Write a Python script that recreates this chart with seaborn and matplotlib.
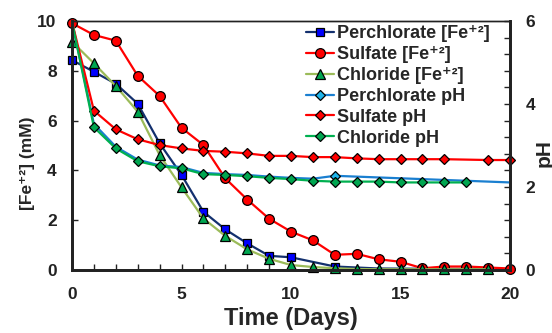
import matplotlib
matplotlib.use("Agg")
import matplotlib.pyplot as plt
import seaborn as sns
from matplotlib.lines import Line2D
from matplotlib.ticker import MultipleLocator

# Fe+2 concentration (mM)
perc_fe_days = [0, 1, 2, 3, 4, 5, 6, 7, 8, 9, 10, 12, 14, 16, 19]
perc_fe = [8.43, 7.96, 7.48, 6.68, 5.09, 3.82, 2.34, 1.63, 1.07, 0.57, 0.51, 0.14, 0.06, 0.05, 0.04]

sulf_fe_days = list(range(0, 21))
sulf_fe = [9.91, 9.44, 9.21, 7.80, 6.99, 5.71, 5.02, 3.68, 2.83, 2.06, 1.54, 1.19, 0.61, 0.65,
           0.43, 0.33, 0.07, 0.14, 0.14, 0.10, 0.06]

chl_fe_days = list(range(0, 20))
chl_fe = [9.17, 8.30, 7.39, 6.36, 4.62, 3.32, 2.07, 1.37, 0.83, 0.45, 0.20, 0.12, 0.07, 0.04,
          0.03, 0.03, 0.03, 0.03, 0.03, 0.03]

# pH
perc_ph_days = [0, 1, 2, 3, 4, 5, 6, 7, 8, 9, 10, 11, 12, 20]
perc_ph = [5.98, 3.52, 2.97, 2.66, 2.52, 2.48, 2.34, 2.31, 2.29, 2.25, 2.22, 2.20, 2.27, 2.11]

sulf_ph_days = list(range(0, 18)) + [19, 20]
sulf_ph = [5.98, 3.84, 3.39, 3.15, 3.01, 2.93, 2.87, 2.85, 2.81, 2.75, 2.75, 2.72, 2.72, 2.69,
           2.67, 2.67, 2.67, 2.67, 2.65, 2.65]

chl_ph_days = list(range(0, 19))
chl_ph = [5.98, 3.44, 2.93, 2.62, 2.50, 2.45, 2.31, 2.29, 2.26, 2.22, 2.19, 2.15, 2.13, 2.13,
          2.13, 2.11, 2.11, 2.11, 2.11]

labels = ['Perchlorate [Fe\u207a\u00b2]', 'Sulfate [Fe\u207a\u00b2]', 'Chloride [Fe\u207a\u00b2]',
          'Perchlorate pH', 'Sulfate pH', 'Chloride pH']

# (line colour, marker, marker face, marker size)
styles = [('#13306e', 's', '#0000ff', 6),
          ('#ff0000', 'o', '#ff0000', 7),
          ('#9bbb59', '^', '#00a650', 6.5),
          ('#1a7fd0', 'D', '#1eb4ea', 5),
          ('#ff0000', 'D', '#ff0000', 5),
          ('#00b050', 'D', '#00a650', 5)]

sns.set_style("white")
plt.rcParams['font.family'] = ['Liberation Sans', 'DejaVu Sans']
plt.rcParams['font.weight'] = 'bold'

fig = plt.figure(figsize=(5.52, 3.33), dpi=100)
ax = fig.add_axes([72 / 552, 1 - 270 / 333, 438 / 552, 249 / 333])
ax2 = ax.twinx()

series = [(ax, perc_fe_days, perc_fe, list(range(12))),
          (ax, sulf_fe_days, sulf_fe, None),
          (ax, chl_fe_days, chl_fe, None),
          (ax2, perc_ph_days, perc_ph, [12]),
          (ax2, sulf_ph_days, sulf_ph, list(range(1, len(sulf_ph)))),
          (ax2, chl_ph_days, chl_ph, list(range(1, len(chl_ph))))]

for (a, xs, ys, every), (col, mk, face, ms) in zip(series, styles):
    sns.lineplot(x=xs, y=ys, ax=a, color=col, marker=mk, markersize=ms, markerfacecolor=face,
                 markeredgecolor='black', markeredgewidth=0.9, linewidth=1.6,
                 markevery=every, clip_on=False, legend=False)

ax.set_xlim(0, 20)
ax.set_ylim(0, 10)
ax2.set_ylim(0, 6)

ax.xaxis.set_major_locator(MultipleLocator(5))
ax.xaxis.set_minor_locator(MultipleLocator(1))
ax.yaxis.set_major_locator(MultipleLocator(2))
ax2.yaxis.set_major_locator(MultipleLocator(2))
ax2.yaxis.set_minor_locator(MultipleLocator(0.4))

ax.tick_params(axis='x', which='both', direction='in', length=4, width=1, top=False,
               bottom=True, pad=12, labelsize=12.5, colors='#222222')
ax.tick_params(axis='y', which='both', direction='in', length=4, width=1, left=True,
               right=False, pad=11, labelsize=12.5, colors='#222222')
ax2.tick_params(axis='y', which='both', direction='in', length=4, width=1, right=True,
                left=False, pad=11, labelsize=12.5, colors='#222222')
for lab in ax.get_xticklabels() + ax.get_yticklabels() + ax2.get_yticklabels():
    lab.set_fontweight('bold')

for a in (ax, ax2):
    for s in a.spines.values():
        s.set_color('#222222')
        s.set_linewidth(1)
    a.spines['left'].set_linewidth(2)
    a.spines['bottom'].set_linewidth(2)
    a.spines['right'].set_linewidth(2)

ax.set_xlabel('Time (Days)', fontsize=17, fontweight='bold', labelpad=4)
ax.set_ylabel('[Fe\u207a\u00b2] (mM)', fontsize=12.5, fontweight='bold')
ax.yaxis.set_label_coords(-0.085, 0.43)
ax2.set_ylabel('pH', fontsize=15, fontweight='bold')
ax2.yaxis.set_label_coords(1.055, 0.47)

handles = [Line2D([], [], color=col, marker=mk, markersize=ms, markerfacecolor=face,
                  markeredgecolor='black', markeredgewidth=0.9, linewidth=1.6)
           for col, mk, face, ms in styles]
leg = fig.legend(handles, labels, loc='upper left', bbox_to_anchor=(306 / 552, 1 - 25 / 333),
                 bbox_transform=fig.transFigure, frameon=False, fontsize=13,
                 handlelength=1.55, handleheight=0.8, handletextpad=0.15,
                 labelspacing=0.21, borderpad=0, borderaxespad=0)
for t in leg.get_texts():
    t.set_fontweight('bold')

fig.savefig('out.png', dpi=100)
